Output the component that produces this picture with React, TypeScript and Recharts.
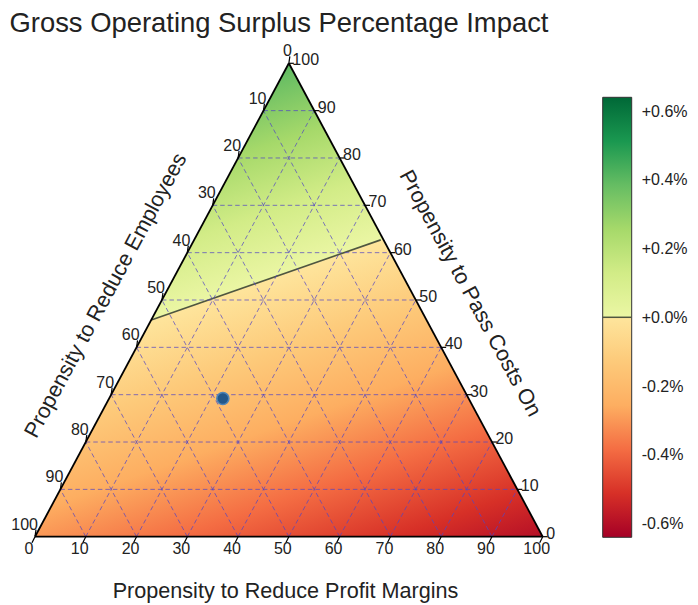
import React from 'react';
import {
  ComposedChart,
  Area,
  Scatter,
  XAxis,
  YAxis,
  ReferenceLine,
  BarChart,
  Bar,
} from 'recharts';

// ---------- data ----------
const tickLabels = ['0', '10', '20', '30', '40', '50', '60', '70', '80', '90', '100'];
const gridSteps = [10, 20, 30, 40, 50, 60, 70, 80, 90];
// triangle outline in (profit-margin position, pass-costs height) space
const triangle = [
  { x: 0, y: 0 },
  { x: 50, y: 100 },
  { x: 100, y: 0 },
];
// scenario marker
const scenario = [{ x: 37.0, y: 29.2 }];
// zero-impact contour
const zeroContour = [
  { x: 22.9, y: 45.8 },
  { x: 68.1, y: 62.7 },
];
// surface readings (percent impact)
const fieldTop = 0.4;
const fieldBottomRight = -0.6;
// colour scale
const colorMin = -0.64;
const colorMax = 0.64;
const colorTicks = [-0.6, -0.4, -0.2, 0, 0.2, 0.4, 0.6];
const scaleValues = [-0.64, -0.512, -0.384, -0.256, -0.128, 0, 0, 0.128, 0.256, 0.384, 0.512, 0.64];
const scaleColors = [
  '#a50026', '#d73027', '#f46d43', '#fdae61', '#fdca7a', '#fee59c',
  '#ebf6a4', '#d2ec87', '#a6d96a', '#66bd63', '#1a9850', '#006837',
];

// ---------- layout ----------
const W = 698;
const H = 605;
const MARGIN = { top: 63.3, right: 155.3, bottom: 68.3, left: 35 };
const PW = W - MARGIN.left - MARGIN.right;
const PH = H - MARGIN.top - MARGIN.bottom;
const FONT = '"Liberation Sans", Arial, Helvetica, sans-serif';
const TEXT = '#222';
const GRID = '#5345c4';
const EDGE_ANGLE = (Math.atan2(PH, PW / 2) * 180) / Math.PI;

const px = (X: number) => MARGIN.left + (X / 100) * PW;
const py = (Y: number) => MARGIN.top + (1 - Y / 100) * PH;

const bottomTicks = tickLabels.map((l) => ({ x: Number(l), y: 0, label: l }));
const leftTicks = tickLabels.map((l) => ({ x: (100 - Number(l)) / 2, y: 100 - Number(l), label: l }));
const rightTicks = tickLabels.map((l) => ({ x: 100 - Number(l) / 2, y: Number(l), label: l }));

// gradient geometry: perpendicular to the zero contour
function heatGradient() {
  const L = { x: px(zeroContour[0].x), y: py(zeroContour[0].y) };
  const R = { x: px(zeroContour[1].x), y: py(zeroContour[1].y) };
  const dx = R.x - L.x;
  const dy = R.y - L.y;
  const len = Math.hypot(dx, dy);
  let n = { x: dy / len, y: -dx / len };
  const top = { x: px(50), y: py(100) };
  const br = { x: px(100), y: py(0) };
  let dTop = (top.x - L.x) * n.x + (top.y - L.y) * n.y;
  if (dTop < 0) {
    n = { x: -n.x, y: -n.y };
    dTop = -dTop;
  }
  const dBr = (br.x - L.x) * n.x + (br.y - L.y) * n.y;
  const s = (v: number) => (v >= 0 ? (v / fieldTop) * dTop : (v / fieldBottomRight) * dBr);
  const s0 = s(colorMin);
  const s1 = s(colorMax);
  const stops = scaleValues.map((v, i) => ({ offset: (s(v) - s0) / (s1 - s0), color: scaleColors[i] }));
  return {
    x1: L.x + n.x * s0,
    y1: L.y + n.y * s0,
    x2: L.x + n.x * s1,
    y2: L.y + n.y * s1,
    stops,
  };
}

const BottomTick = (props: any) => {
  const { cx, cy, payload } = props;
  return (
    <g>
      <line x1={cx} y1={cy} x2={cx - 3} y2={cy + 6} stroke="#000" strokeWidth={1.2} />
      <text x={cx - 6} y={cy + 11.6} dy="0.35em" textAnchor="middle" fontSize={16} fill={TEXT} fontFamily={FONT}>
        {payload.label}
      </text>
    </g>
  );
};
const LeftTick = (props: any) => {
  const { cx, cy, payload } = props;
  return (
    <g>
      <line x1={cx} y1={cy} x2={cx + 1} y2={cy - 7} stroke="#000" strokeWidth={1.2} />
      <text x={cx + 3} y={cy - 12.7} dy="0.35em" textAnchor="end" fontSize={16} fill={TEXT} fontFamily={FONT}>
        {payload.label}
      </text>
    </g>
  );
};
const RightTick = (props: any) => {
  const { cx, cy, payload } = props;
  return (
    <g>
      <line x1={cx} y1={cy} x2={cx + 5} y2={cy} stroke="#000" strokeWidth={1.2} />
      <text x={cx + 3.5} y={cy - 3.5} dy="0.35em" textAnchor="start" fontSize={16} fill={TEXT} fontFamily={FONT}>
        {payload.label}
      </text>
    </g>
  );
};
const ScenarioDot = (props: any) => {
  const { cx, cy } = props;
  return <circle cx={cx} cy={cy} r={6} fill="#23588a" stroke="#4d84b8" strokeWidth={1.6} />;
};

const dash = { stroke: GRID, strokeOpacity: 0.72, strokeWidth: 1, strokeDasharray: '4.5 3' };

export default function App() {
  const g = heatGradient();
  const gridSegs: { a: { x: number; y: number }; b: { x: number; y: number } }[] = [];
  gridSteps.forEach((v) => {
    gridSegs.push({ a: { x: v / 2, y: v }, b: { x: 100 - v / 2, y: v } });
    gridSegs.push({ a: { x: v, y: 0 }, b: { x: v + (100 - v) / 2, y: 100 - v } });
    gridSegs.push({ a: { x: v, y: 0 }, b: { x: v / 2, y: v } });
  });
  const edges = [
    [triangle[0], triangle[1]],
    [triangle[1], triangle[2]],
    [triangle[2], triangle[0]],
  ];
  const cbStops = scaleValues.map((v, i) => ({
    offset: (v - colorMin) / (colorMax - colorMin),
    color: scaleColors[i],
  }));

  return (
    <div style={{ position: 'absolute', left: 0, top: 0, width: W, height: H, background: '#fff' }}>
      <div style={{ position: 'absolute', left: 0, top: 0 }}>
        <ComposedChart width={W} height={H} data={triangle} margin={MARGIN}>
          <defs>
            <linearGradient id="heatGrad" gradientUnits="userSpaceOnUse" x1={g.x1} y1={g.y1} x2={g.x2} y2={g.y2}>
              {g.stops.map((s, i) => (
                <stop key={i} offset={s.offset} stopColor={s.color} />
              ))}
            </linearGradient>
          </defs>
          <XAxis type="number" dataKey="x" domain={[0, 100]} hide />
          <YAxis type="number" domain={[0, 100]} hide />
          <Area
            type="linear"
            dataKey="y"
            stroke="none"
            fill="url(#heatGrad)"
            fillOpacity={1}
            isAnimationActive={false}
            dot={false}
            activeDot={false}
          />
          <ReferenceLine
            segment={[zeroContour[0], zeroContour[1]]}
            stroke="#4f5640"
            strokeWidth={1.6}
            ifOverflow="visible"
          />
          {gridSegs.map((s, i) => (
            <ReferenceLine key={'g' + i} segment={[s.a, s.b]} {...dash} ifOverflow="visible" />
          ))}
          {edges.map((e, i) => (
            <ReferenceLine key={'e' + i} segment={[e[0], e[1]]} stroke="#000" strokeWidth={1.8} ifOverflow="visible" />
          ))}
          <Scatter data={bottomTicks} dataKey="y" shape={BottomTick} isAnimationActive={false} />
          <Scatter data={leftTicks} dataKey="y" shape={LeftTick} isAnimationActive={false} />
          <Scatter data={rightTicks} dataKey="y" shape={RightTick} isAnimationActive={false} />
          <Scatter data={scenario} dataKey="y" shape={ScenarioDot} isAnimationActive={false} />
          <text x={9.5} y={22} dy="0.35em" fontSize={27.4} fill={TEXT} fontFamily={FONT}>
            Gross Operating Surplus Percentage Impact
          </text>
          <text x={285.5} y={590} dy="0.35em" textAnchor="middle" fontSize={21.6} fill={TEXT} fontFamily={FONT}>
            Propensity to Reduce Profit Margins
          </text>
          <text
            x={105}
            y={295}
            dy="0.35em"
            textAnchor="middle"
            fontSize={21.6}
            fill={TEXT}
            fontFamily={FONT}
            transform={`rotate(${-EDGE_ANGLE} 105 295)`}
          >
            Propensity to Reduce Employees
          </text>
          <text
            x={471}
            y={293}
            dy="0.35em"
            textAnchor="middle"
            fontSize={21.6}
            fill={TEXT}
            fontFamily={FONT}
            transform={`rotate(${EDGE_ANGLE} 471 293)`}
          >
            Propensity to Pass Costs On
          </text>
        </ComposedChart>
      </div>
      <div style={{ position: 'absolute', left: 590, top: 80 }}>
        <BarChart
          width={108}
          height={475}
          data={[{ name: 'scale', range: [colorMin, colorMax] }]}
          margin={{ top: 17.3, right: 0, bottom: 17.7, left: 12.7 }}
          barCategoryGap={0}
        >
          <defs>
            <linearGradient id="cbGrad" x1="0" y1="1" x2="0" y2="0">
              {cbStops.map((s, i) => (
                <stop key={i} offset={s.offset} stopColor={s.color} />
              ))}
            </linearGradient>
          </defs>
          <XAxis type="category" dataKey="name" hide />
          <YAxis
            type="number"
            orientation="right"
            width={66.3}
            domain={[colorMin, colorMax]}
            ticks={colorTicks}
            tickLine={false}
            axisLine={false}
            tickSize={6}
            tickMargin={4}
            interval={0}
            tick={{ fontSize: 16, fill: TEXT, fontFamily: FONT }}
            tickFormatter={(v: number) => (v >= 0 ? '+' : '-') + Math.abs(v).toFixed(1) + '%'}
          />
          <Bar dataKey="range" fill="url(#cbGrad)" stroke="#333" strokeWidth={1} isAnimationActive={false} />
          <ReferenceLine y={0} stroke="#4f5640" strokeWidth={1.5} />
        </BarChart>
      </div>
    </div>
  );
}
